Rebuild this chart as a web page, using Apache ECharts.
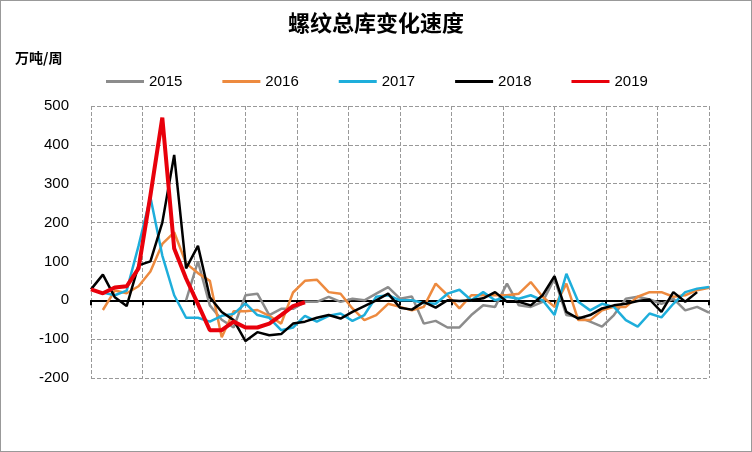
<!DOCTYPE html>
<html>
<head>
<meta charset="utf-8">
<script src="https://cdn.jsdelivr.net/npm/echarts@6/dist/echarts.min.js"></script>
<style>
  html, body { margin: 0; padding: 0; background: #fff; }
  #main { width: 750px; height: 450px; border: 1px solid #999; }
</style>
</head>
<body>
<div id="main"></div>
<script>
// 周序号 0..52, 月份刻度
var monthLabels = ['1-1', '2-1', '3-1', '4-1', '5-1', '6-1', '7-1', '8-1', '9-1', '10-1', '11-1', '12-1'];
var years = ['2015', '2016', '2017', '2018', '2019'];
var colors = ['#8c8c8c', '#ed8a3f', '#1eaedb', '#000000', '#e8000b'];

var data2015 = [null, null, null, null, null, null, null, null, 0, 100, -13, -50, -70, 13, 17, -38, -22, -22,
  -4, -4, 9, -4, 4, 0, 17, 34, 4, 10, -60, -53, -70, -70, -38, -13, -17, 43, -13, -17, -4, 56,
  -38, -43, -55, -68, -38, 4, 9, 2, -9, 4, -26, -17, -32];
var data2016 = [null, -25, 25, 18, 36, 74, 145, 175, 95, 70, 50, -95, -28, -28, -25, -40, -60, 20,
  50, 53, 21, 17, -21, -51, -38, -9, -17, -26, -17, 43, 13, -21, 13, 13, 13, 13, 17, 47, 9, -17,
  43, -51, -51, -26, -17, -17, 9, 21, 21, 9, 13, 26, 32];
var data2017 = [null, 20, 13, 25, 140, 265, 115, 13, -45, -45, -55, -40, -35, -8, -38, -45, -77, -70,
  -40, -55, -40, -34, -53, -38, 9, 13, 0, 0, -7, -9, 17, 27, 0, 21, 0, 9, 4, 13, 0, -38,
  68, -4, -26, -9, -17, -51, -68, -34, -44, -9, 21, 30, 34];
var data2018 = [28, 66, 8, -15, 90, 100, 200, 374, 82, 140, 8, -30, -51, -105, -82, -90, -87, -60,
  -55, -45, -38, -47, -30, -15, 0, 17, -19, -24, -4, -19, 0, -2, 0, 5, 21, -4, -4, -13, 13, 62,
  -30, -47, -38, -21, -13, -9, -2, 2, -30, 21, -4, 21];
var data2019 = [28, 18, 33, 36, 82, 270, 470, 133, 56, -10, -77, -77, -55, -70, -70, -60, -38, -15, -5];

var allData = [data2015, data2016, data2017, data2018, data2019];

function toPairs(arr) {
  var out = [];
  for (var i = 0; i < arr.length; i++) {
    out.push([i, arr[i]]);
  }
  return out;
}

var series = [];
for (var k = 0; k < years.length; k++) {
  series.push({
    name: years[k],
    type: 'line',
    data: toPairs(allData[k]),
    symbol: 'none',
    connectNulls: false,
    z: k + 2,
    lineStyle: { color: colors[k], width: k === 4 ? 4 : 2.5 },
    itemStyle: { color: colors[k] }
  });
}

var chartObj = echarts.init(document.getElementById('main'));

var option = {
  animation: false,
  title: {
    text: '螺纹总库变化速度',
    left: 'center',
    top: 6,
    textStyle: { fontFamily: 'Noto Sans CJK SC', fontSize: 22, fontWeight: 'bold', color: '#000' }
  },
  graphic: [{
    type: 'text', left: 14, top: 50,
    style: { text: '万吨/周', font: 'bold 14px "Noto Sans CJK SC"', fill: '#000' }
  }],
  legend: {
    top: 68,
    left: 100,
    itemGap: 40,
    itemWidth: 38,
    itemHeight: 3,
    icon: 'rect',
    textStyle: { fontSize: 15, color: '#000', fontFamily: 'Liberation Sans' },
    data: years
  },
  grid: { left: 90, right: 42, top: 105, bottom: 73, outerBoundsMode: 'none', containLabel: false },
  xAxis: {
    type: 'value',
    min: 0,
    max: 52,
    interval: 52 / 12,
    axisLine: { onZero: true, lineStyle: { color: '#000', width: 2 } },
    axisTick: { show: true, length: 5, lineStyle: { color: '#000', width: 2 } },
    splitLine: { show: true, lineStyle: { type: 'dashed', color: '#999' } },
    axisLabel: {
      rotate: 45,
      margin: 88,
      fontSize: 15,
      color: '#000',
      fontFamily: 'Liberation Sans',
      formatter: function (v) {
        var idx = Math.round(v / (52 / 12));
        return idx < 12 ? monthLabels[idx] : '';
      }
    }
  },
  yAxis: {
    type: 'value',
    min: -200,
    max: 500,
    interval: 100,
    axisLine: { show: false },
    axisTick: { show: false },
    splitLine: { lineStyle: { type: 'dashed', color: '#999' } },
    axisLabel: { fontSize: 15, color: '#000', fontFamily: 'Liberation Sans', margin: 22 }
  },
  series: series
};

chartObj.setOption(option);
</script>
</body>
</html>
